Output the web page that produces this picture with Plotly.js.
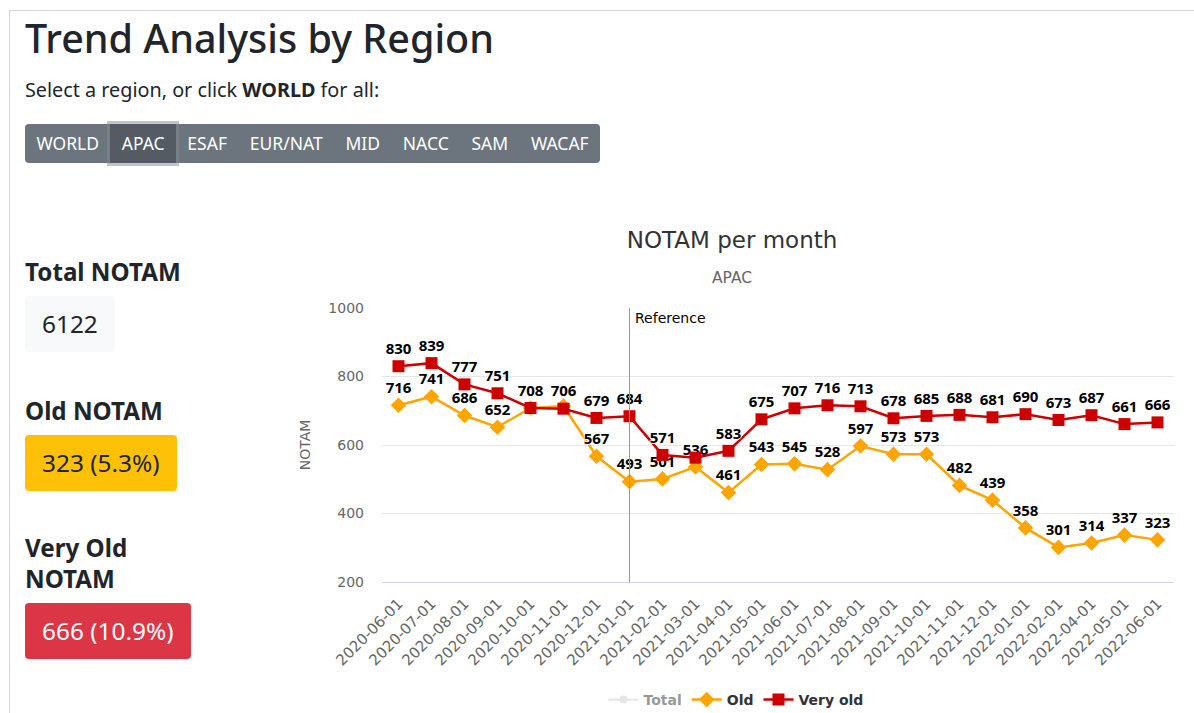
<!DOCTYPE html>
<html>
<head>
<meta charset="utf-8">
<script src="https://cdn.plot.ly/plotly-3.0.1.min.js"></script>
<style>
  html, body { margin:0; padding:0; background:#fff; width:1194px; height:713px; overflow:hidden; font-family:"Noto Sans", sans-serif; color:#212529; }
  .frame { position:absolute; left:9px; top:10px; width:1400px; height:900px; border-left:1px solid #d6d6d6; border-top:1px solid #d6d6d6; }
  h1 { position:absolute; left:25px; top:11px; margin:0; font-size:39.5px; font-weight:500; }
  .lead { position:absolute; left:25px; top:76px; font-size:19.8px; }
  .btns { position:absolute; left:25px; top:124px; height:39px; display:flex; background:#6c757d; border-radius:4px; }
  .btns div { color:#fff; font-size:17.5px; line-height:39px; padding:0 11.4px; }
  .btns div.active { background:#545b62; box-shadow:0 0 0 3px rgba(130,138,145,0.5); }
  .stat-h { position:absolute; left:25px; font-size:24.2px; font-weight:700; line-height:31px; }
  .box { position:absolute; left:25px; height:56px; line-height:56px; font-size:24.4px; border-radius:4px; padding:0 17px; }
  #chart { position:absolute; left:290px; top:210px; width:904px; height:503px; }
</style>
</head>
<body>
<div class="frame"></div>
<h1>Trend Analysis by Region</h1>
<div class="lead">Select a region, or click <b>WORLD</b> for all:</div>
<div class="btns" id="btns"></div>
<div class="stat-h" style="top:256px;">Total NOTAM</div>
<div class="box" style="top:296px; background:#f8f9fa; color:#212529;" id="totalBox"></div>
<div class="stat-h" style="top:395px;">Old NOTAM</div>
<div class="box" style="top:435px; background:#ffc107; color:#212529;" id="oldBox"></div>
<div class="stat-h" style="top:532px;">Very Old<br>NOTAM</div>
<div class="box" style="top:603px; background:#dc3545; color:#fff;" id="vOldBox"></div>
<div id="chart"></div>
<script>
const regions = ["WORLD","APAC","ESAF","EUR/NAT","MID","NACC","SAM","WACAF"];
const selectedRegion = "APAC";
const months = ["2020-06-01","2020-07-01","2020-08-01","2020-09-01","2020-10-01","2020-11-01","2020-12-01",
  "2021-01-01","2021-02-01","2021-03-01","2021-04-01","2021-05-01","2021-06-01","2021-07-01","2021-08-01",
  "2021-09-01","2021-10-01","2021-11-01","2021-12-01","2022-01-01","2022-02-01","2022-04-01","2022-05-01","2022-06-01"];
const oldValues = [716,741,686,652,708,714,567,493,501,536,461,543,545,528,597,573,573,482,439,358,301,314,337,323];
const veryOldValues = [830,839,777,751,708,706,679,684,571,563,583,675,707,716,713,678,685,688,681,690,673,687,661,666];
const totalMonths = ["2022-06-01"];
const totalValues = [6122];
// labels hidden in the reference because they overlap
const oldHiddenLabels = ["2020-10-01","2020-11-01"];
const veryOldHiddenLabels = ["2021-03-01"];
const referenceMonth = "2021-01-01";
const totalNotam = 6122, oldNotam = 323, veryOldNotam = 666;

document.getElementById('btns').innerHTML = regions.map(r => `<div class="${r===selectedRegion?'active':''}">${r}</div>`).join('');
document.getElementById('totalBox').textContent = totalNotam;
document.getElementById('oldBox').textContent = `${oldNotam} (${(oldNotam/totalNotam*100).toFixed(1)}%)`;
document.getElementById('vOldBox').textContent = `${veryOldNotam} (${(veryOldNotam/totalNotam*100).toFixed(1)}%)`;

const outline = "1px 0 0 #fff, -1px 0 0 #fff, 0 1px 0 #fff, 0 -1px 0 #fff";
const labelFont = {family:"Open Sans", size:15, color:"#000", weight:"bold", shadow:outline};
const traces = [
  {name:"Total", x:totalMonths, y:totalValues, type:"scatter", mode:"lines+markers", visible:"legendonly",
   line:{color:"#cccccc", width:2}, marker:{color:"#cccccc", size:8, symbol:"circle"}},
  {name:"Old", x:months, y:oldValues, type:"scatter", mode:"lines+markers+text",
   text: oldValues.map((v,i)=> oldHiddenLabels.includes(months[i]) ? "" : String(v)),
   textposition:"top center", textfont:labelFont, cliponaxis:false,
   line:{color:"#FFA500", width:2.5}, marker:{color:"#FFA500", size:12, symbol:"diamond"}},
  {name:"Very old", x:months, y:veryOldValues, type:"scatter", mode:"lines+markers+text",
   text: veryOldValues.map((v,i)=> veryOldHiddenLabels.includes(months[i]) ? "" : String(v)),
   textposition:"top center", textfont:labelFont, cliponaxis:false,
   line:{color:"#CC0000", width:2.5}, marker:{color:"#CC0000", size:12, symbol:"square"}}
];
const layout = {
  width:904, height:503,
  margin:{l:92, r:20, t:98, b:131},
  paper_bgcolor:"#fff", plot_bgcolor:"#fff",
  font:{family:"DejaVu Sans", color:"#666"},
  title:{text:"NOTAM per month", x:(732-290)/904, xanchor:"center", y:1-30/503, yanchor:"middle", font:{family:"DejaVu Sans", size:23, color:"#333"}},
  xaxis:{type:"category", categoryarray:months, categoryorder:"array", range:[-0.5, months.length-0.5],
    tickangle:-45, tickfont:{size:15, color:"#666"}, showgrid:false, showline:true, linecolor:"#ccd6eb", linewidth:1,
    ticks:"", zeroline:false, fixedrange:true, ticklabelstandoff:6},
  yaxis:{range:[200,1000], tickvals:[200,400,600,800,1000], tickfont:{size:14, color:"#666"}, gridcolor:"#e6e6e6",
    showline:false, zeroline:false, ticks:"", ticklen:0, ticklabelstandoff:17,
    title:{text:"NOTAM", font:{size:14, color:"#666"}, standoff:14}},
  showlegend:true,
  legend:{orientation:"h", x:(736-382)/792, xanchor:"center", yref:"container", y:1-490/503, yanchor:"middle",
    font:{size:14, color:"#333", weight:"bold"}, itemwidth:30, traceorder:"normal", tracegroupgap:0},
  shapes:[{type:"line", xref:"x", yref:"paper", x0:referenceMonth, x1:referenceMonth, y0:0, y1:1, line:{color:"#999", width:1}}],
  annotations:[
    {text:"APAC", xref:"paper", yref:"paper", x:(732-382)/792, y:1+(98-68)/274, xanchor:"center", yanchor:"middle", showarrow:false, font:{size:15.5, color:"#666"}},
    {text:"Reference", xref:"x", yref:"paper", x:referenceMonth, y:1, xanchor:"left", yanchor:"top", xshift:3, yshift:0, showarrow:false, font:{size:14, color:"#000"}}
  ]
};
Plotly.newPlot("chart", traces, layout, {displayModeBar:false});
</script>
</body>
</html>
